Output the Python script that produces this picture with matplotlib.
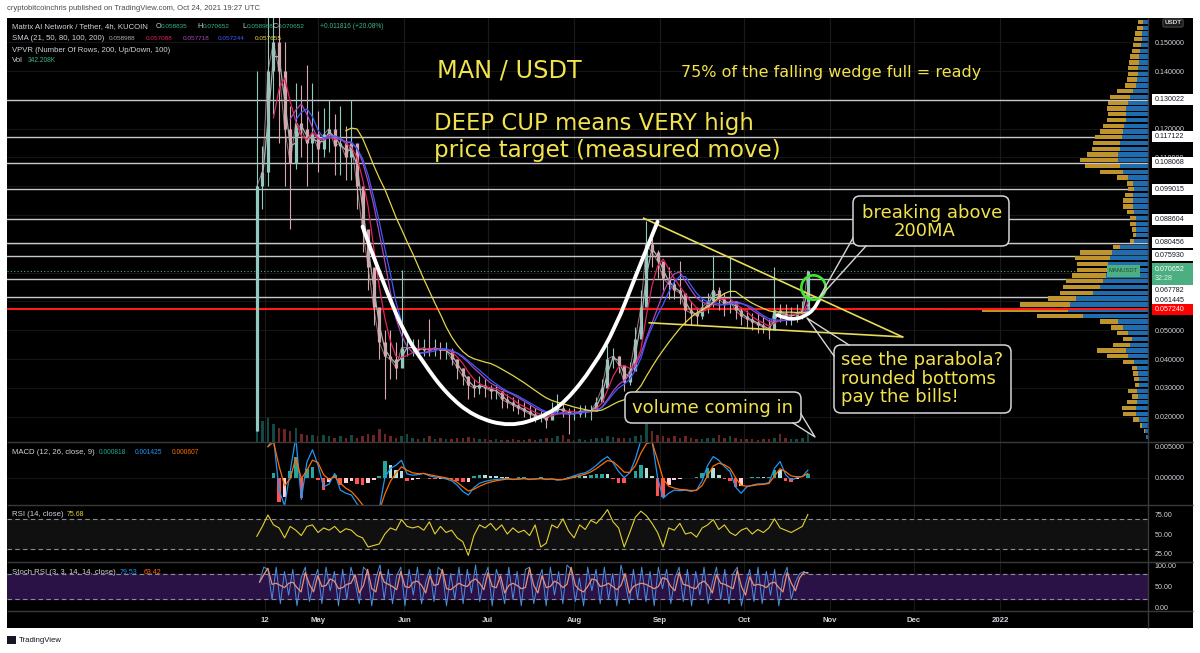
import matplotlib
matplotlib.use("Agg")
import matplotlib.pyplot as plt
import matplotlib.dates as mdates
from matplotlib.patches import FancyBboxPatch, Rectangle, PathPatch
from matplotlib.path import Path
import numpy as np
import pandas as pd

plt.rcParams["font.family"] = ["Liberation Sans", "DejaVu Sans"]

W, H = 1200, 653
YELLOW = "#f2e34c"
GRID = "#1a1a1a"
TXT = "#d1d4dc"
GREEN = "#3bb48a"
SEP = "#3a3a3a"
EDGE = "#d6d6d6"

# ---------------------------------------------------------------
# data (2-day samples of the 4h MAN/USDT chart)
# ---------------------------------------------------------------
candle_dates = pd.date_range("2021-04-09", "2021-10-24", freq="2D")

close = [0.100, 0.105, 0.140, 0.150, 0.140, 0.120, 0.108, 0.122, 0.120, 0.115,
         0.118, 0.113, 0.118, 0.120, 0.114, 0.115, 0.110, 0.115, 0.100, 0.085,
         0.072, 0.058, 0.046, 0.041, 0.040, 0.037, 0.044, 0.044, 0.044, 0.043,
         0.044, 0.043, 0.044, 0.043, 0.043, 0.040, 0.037, 0.034, 0.031, 0.030,
         0.031, 0.030, 0.029, 0.029, 0.026, 0.025, 0.024, 0.023, 0.022, 0.021,
         0.020, 0.020, 0.019, 0.022, 0.023, 0.022, 0.021, 0.021, 0.022, 0.022,
         0.022, 0.025, 0.030, 0.040, 0.041, 0.038, 0.032, 0.036, 0.047, 0.058,
         0.080, 0.077, 0.074, 0.068, 0.066, 0.064, 0.063, 0.057, 0.056, 0.055,
         0.058, 0.060, 0.064, 0.061, 0.059, 0.060, 0.057, 0.055, 0.054, 0.053,
         0.052, 0.051, 0.050, 0.057, 0.056, 0.055, 0.055, 0.056, 0.057, 0.0707]
high = [0.140, 0.114, 0.165, 0.165, 0.165, 0.150, 0.128, 0.136, 0.135, 0.142,
        0.136, 0.126, 0.127, 0.130, 0.125, 0.128, 0.121, 0.130, 0.114, 0.093,
        0.083, 0.066, 0.054, 0.050, 0.050, 0.046, 0.071, 0.047, 0.047, 0.047,
        0.047, 0.054, 0.047, 0.046, 0.046, 0.044, 0.040, 0.037, 0.034, 0.033,
        0.034, 0.033, 0.031, 0.031, 0.029, 0.028, 0.027, 0.026, 0.025, 0.024,
        0.023, 0.022, 0.022, 0.025, 0.028, 0.025, 0.023, 0.023, 0.024, 0.024,
        0.024, 0.027, 0.033, 0.045, 0.044, 0.041, 0.037, 0.039, 0.051, 0.064,
        0.088, 0.082, 0.078, 0.072, 0.072, 0.068, 0.074, 0.062, 0.060, 0.058,
        0.061, 0.063, 0.076, 0.065, 0.063, 0.075, 0.060, 0.058, 0.057, 0.056,
        0.056, 0.055, 0.054, 0.072, 0.059, 0.059, 0.058, 0.059, 0.060, 0.0707]
low = [0.015, 0.092, 0.100, 0.125, 0.115, 0.100, 0.085, 0.106, 0.110, 0.100,
       0.108, 0.105, 0.110, 0.112, 0.104, 0.104, 0.102, 0.102, 0.092, 0.077,
       0.064, 0.052, 0.040, 0.026, 0.033, 0.033, 0.040, 0.041, 0.041, 0.041,
       0.041, 0.041, 0.041, 0.040, 0.040, 0.038, 0.033, 0.031, 0.026, 0.027,
       0.028, 0.027, 0.026, 0.026, 0.023, 0.023, 0.022, 0.021, 0.020, 0.019,
       0.018, 0.018, 0.016, 0.020, 0.021, 0.020, 0.014, 0.019, 0.020, 0.020,
       0.019, 0.022, 0.027, 0.035, 0.037, 0.035, 0.029, 0.031, 0.042, 0.049,
       0.060, 0.072, 0.068, 0.064, 0.061, 0.061, 0.059, 0.052, 0.052, 0.052,
       0.054, 0.056, 0.058, 0.057, 0.055, 0.056, 0.054, 0.052, 0.051, 0.050,
       0.049, 0.049, 0.047, 0.054, 0.053, 0.052, 0.052, 0.053, 0.054, 0.0589]
volume_k = [4000, 3000, 3500, 2500, 2000, 1800, 1500, 2000, 1200, 1000,
            1000, 800, 1000, 800, 600, 800, 600, 1000, 600, 800,
            1200, 1000, 1800, 1200, 800, 600, 800, 1200, 500, 400,
            500, 800, 400, 500, 400, 400, 500, 600, 700, 500,
            400, 400, 300, 400, 300, 300, 400, 300, 300, 400,
            300, 400, 500, 600, 800, 1000, 400, 300, 400, 300,
            400, 500, 600, 800, 700, 600, 500, 600, 800, 1000,
            2500, 1500, 1000, 800, 600, 800, 500, 800, 500, 400,
            400, 500, 600, 1000, 600, 800, 500, 400, 400, 400,
            300, 400, 400, 500, 1200, 600, 400, 400, 500, 1400]

# MACD line in units of 1e-3
macd_e3 = [np.nan, np.nan, 5.0, 6.5, -2.0, -4.5, 1.0, 6.5, -3.5, 2.5,
           4.5, 2.0, -1.5, -1.0, 0.7, -2.0, -2.5, -2.8, -4.2, -5.5,
           -6.0, -6.0, -5.0, 0.0, 1.5, 2.0, 2.8, 0.6, 0.4, 0.5,
           0.7, 0.3, 0.1, 0.0, -0.2, -0.5, -1.2, -2.2, -2.8, -1.6,
           -0.9, -0.6, -0.4, -0.3, -0.2, -0.1, -0.3, -0.2, -0.1, -0.3,
           -0.2, -0.1, -0.3, -0.2, -0.4, -0.3, 0.0, 0.3, 0.6, 0.8,
           1.3, 2.0, 2.8, 3.4, 2.4, 1.0, 0.0, 0.8, 3.0, 6.0,
           7.0, 6.0, 0.0, -3.3, -2.5, -2.0, -2.1, -2.0, -2.2, -2.0,
           -0.5, 2.0, 3.4, 2.8, 1.8, 1.0, -1.5, -2.5, -1.5, -1.2,
           -1.0, -1.0, -0.8, 1.5, 2.6, 0.5, -0.4, 0.0, 0.2, 1.2]

rsi = [47, 60, 75, 62, 58, 45, 60, 55, 48, 60,
       62, 52, 58, 55, 60, 52, 57, 55, 48, 45,
       33, 35, 37, 50, 58, 55, 69, 60, 58, 60,
       55, 66, 50, 60, 52, 55, 45, 40, 22, 48,
       62, 58, 64, 55, 62, 50, 58, 52, 55, 48,
       62, 33, 38, 62, 58, 70, 54, 45, 62, 56,
       68, 64, 72, 82, 66, 58, 33, 52, 72, 80,
       74, 64, 52, 33, 58, 55, 64, 50, 52, 46,
       58, 62, 69, 56, 62, 52, 48, 55, 58, 50,
       56, 52, 58, 70, 58, 55, 52, 56, 60, 75.68]

stoch_k = [60, 95, 90, 20, 95, 10, 85, 30, 90, 5,
           70, 95, 15, 60, 90, 10, 95, 40, 85, 5,
           90, 20, 95, 60, 10, 95, 85, 5, 70, 100,
           20, 90, 10, 75, 95, 5, 90, 30, 95, 10,
           60, 90, 15, 95, 85, 5, 80, 20, 95, 10,
           90, 35, 100, 15, 70, 95, 5, 90, 60, 10,
           95, 20, 85, 5, 90, 95, 10, 60, 90, 5,
           95, 30, 85, 10, 100, 90, 15, 70, 5, 95,
           40, 90, 10, 95, 20, 80, 5, 100, 60, 10,
           90, 20, 95, 15, 85, 5, 95, 45, 90, 10,
           70, 95, 15, 90, 5, 85, 30, 95, 10, 60,
           95, 20, 90, 10, 80, 95, 5, 55, 90, 15,
           95, 10, 85, 30, 90, 5, 70, 95, 20, 60,
           79.5, 85, 79.53]

# horizontal levels drawn on the chart
sr_levels = [0.130022, 0.117122, 0.108068, 0.099015, 0.088604,
             0.080456, 0.075930, 0.067782, 0.061445]
poc_level = 0.057240
last_price = 0.070652

# volume profile (visible range), rows of 0.002 starting at 0.012
vp_total = [2, 4, 8, 15, 25, 26, 21, 16, 20, 13,
            14, 15, 16, 25, 41, 51, 35, 25, 31, 37,
            48, 111, 166, 128, 100, 88, 85, 82, 76, 71,
            71, 73, 68, 35, 18, 15, 16, 18, 18, 21,
            25, 25, 23, 20, 21, 31, 48, 63, 68, 61,
            56, 55, 53, 48, 45, 41, 40, 41, 40, 38,
            31, 23, 21, 20, 20, 19, 18, 16, 15, 14,
            13, 11, 10]
vp_down = [2, 3, 6, 9, 12, 12, 11, 10, 11, 9,
           9, 10, 11, 14, 20, 22, 18, 16, 20, 25,
           30, 65, 80, 78, 72, 55, 48, 45, 42, 40,
           40, 38, 36, 28, 14, 12, 12, 12, 12, 14,
           15, 15, 15, 14, 15, 20, 25, 28, 30, 30,
           28, 28, 26, 25, 24, 22, 22, 22, 20, 18,
           15, 12, 11, 10, 10, 9, 9, 8, 7, 6,
           6, 5, 5]

# drawings
cup_dates = ["2021-05-17", "2021-05-20", "2021-05-26", "2021-06-01", "2021-06-08",
             "2021-06-16", "2021-06-26", "2021-07-09", "2021-07-21", "2021-07-29",
             "2021-08-08", "2021-08-16", "2021-08-23", "2021-08-31"]
cup_prices = [0.0860, 0.0779, 0.0628, 0.0490, 0.0385, 0.0281, 0.0200, 0.0165,
              0.0200, 0.0252, 0.0374, 0.0512, 0.0686, 0.0877]
bowl_dates = ["2021-10-13", "2021-10-16", "2021-10-20", "2021-10-23", "2021-10-26", "2021-10-28"]
bowl_prices = [0.0553, 0.0541, 0.0539, 0.0550, 0.0570, 0.0605]
wedge_top_dates = ["2021-08-26", "2021-11-27"]
wedge_top_prices = [0.0889, 0.0477]
wedge_bot_dates = ["2021-08-28", "2021-11-27"]
wedge_bot_prices = [0.0526, 0.0477]
circle_date = "2021-10-26"
circle_price = 0.0651

tick_dates = ["2021-04-12", "2021-05-01", "2021-06-01", "2021-07-01", "2021-08-01",
              "2021-09-01", "2021-10-01", "2021-11-01", "2021-12-01", "2022-01-01"]
tick_labels = ["12", "May", "Jun", "Jul", "Aug", "Sep", "Oct", "Nov", "Dec", "2022"]


def rect(x0, y0, x1, y1):
    # pixel box (origin top-left) -> figure fraction rect
    return [x0 / W, 1 - y1 / H, (x1 - x0) / W, (y1 - y0) / H]


def num(dates):
    return mdates.date2num(pd.to_datetime(dates).to_pydatetime())


def blank(a):
    a.set_facecolor("none")
    for s in a.spines.values():
        s.set_visible(False)


def smooth_path(xv, yv):
    # quadratic bezier through the midpoints, read points act as control points
    pts = list(zip(xv, yv))
    verts = [pts[0]]
    codes = [Path.MOVETO]
    for i in range(1, len(pts) - 1):
        mid = ((pts[i][0] + pts[i + 1][0]) / 2, (pts[i][1] + pts[i + 1][1]) / 2)
        verts += [pts[i], mid]
        codes += [Path.CURVE3, Path.CURVE3]
    verts.append(pts[-1])
    codes.append(Path.LINETO)
    return Path(verts, codes)


fig = plt.figure(figsize=(W / 100, H / 100), dpi=100)
fig.patch.set_facecolor("white")

bg = fig.add_axes(rect(7, 18, 1193, 628))
bg.set_zorder(-5)
bg.set_facecolor("black")
bg.set_xticks([])
bg.set_yticks([])
for s in bg.spines.values():
    s.set_visible(False)

ax_vol = fig.add_axes(rect(7, 18, 1148, 442))
ax = fig.add_axes(rect(7, 18, 1148, 442), sharex=ax_vol)
ax_macd = fig.add_axes(rect(7, 442, 1148, 505), sharex=ax_vol)
ax_rsi = fig.add_axes(rect(7, 505, 1148, 562), sharex=ax_vol)
ax_st = fig.add_axes(rect(7, 562, 1148, 611), sharex=ax_vol)
ax_vol.set_zorder(-4)

may1 = mdates.date2num(pd.Timestamp("2021-05-01"))
ax.set_xlim(may1 - 111.75, may1 + 298.2)
tick_x = num(tick_dates)

for a in (ax_vol, ax, ax_macd, ax_rsi, ax_st):
    blank(a)
    a.tick_params(axis="both", length=0, labelsize=5.1, labelcolor=TXT,
                  labelleft=False, labelright=True, labelbottom=False, pad=5)
    for t in tick_x:
        a.axvline(t, color=GRID, lw=0.8, zorder=0)
ax_vol.axis("off")

# ---------------- main pane ----------------
ymin, ymax = 0.01122, 0.1584
ax.set_ylim(ymin, ymax)
price_ticks = np.arange(2, 16) / 100
hidden_ticks = {6, 7, 8, 9, 10, 13}  # covered by the level labels on the scale
ax.set_yticks(price_ticks)
ax.set_yticklabels(["" if round(v * 100) in hidden_ticks else f"{v:.6f}" for v in price_ticks])
for v in price_ticks:
    ax.axhline(v, color=GRID, lw=0.6, zorder=0)

for lvl in sr_levels:
    ax.axhline(lvl, color="#c8c8c8", lw=1.0, zorder=2)
ax.axhline(poc_level, color="#ff1a1a", lw=1.5, zorder=2)
ax.axhline(last_price, color="#4caf82", lw=0.8, ls=(0, (1, 2)), zorder=2)

xs = num(candle_dates)
opens = [low[0]] + close[:-1]
up = [c >= o for c, o in zip(close, opens)]
ccol = ["#8fc9bf" if u else "#d7a6ad" for u in up]
ax.vlines(xs, low, high, colors=ccol, lw=0.8, zorder=3)
ax.vlines(xs, np.minimum(opens, close), np.maximum(opens, close), colors=ccol, lw=2.3, zorder=3)
ax.plot(xs, close, color="#cfa9ae", lw=0.7, alpha=0.7, zorder=3)

# SMA 21/50/80/100/200 on 4h candles, expressed in 2-day samples
s_close = pd.Series(close)
ma_windows = [2, 4, 7, 8, 17]
ma_colors = ["#b0b0b0", "#e0245e", "#ab47bc", "#3d5afe", "#e2d54a"]
for win, col in zip(ma_windows, ma_colors):
    ax.plot(xs, s_close.rolling(win).mean(), color=col, lw=0.9, zorder=4)

ax_vol.set_ylim(0, 60000)
vcol = ["#26a69a" if u else "#ef5350" for u in up]
ax_vol.bar(xs, volume_k, width=0.9, color=vcol, alpha=0.45)

# drawings on the price pane
ax.add_patch(PathPatch(smooth_path(num(cup_dates), cup_prices), fc="none", ec="white",
                       lw=2.8, capstyle="round", zorder=6))
ax.add_patch(PathPatch(smooth_path(num(bowl_dates), bowl_prices), fc="none", ec="white",
                       lw=2.6, capstyle="round", zorder=6))
ax.plot(num(wedge_top_dates), wedge_top_prices, color="#e6dc55", lw=1.2, zorder=5)
ax.plot(num(wedge_bot_dates), wedge_bot_prices, color="#e6dc55", lw=1.2, zorder=5)
ax.plot(num([circle_date]), [circle_price], marker="o", ms=17.5, mfc="none",
        mec="#3fe82c", mew=1.9, zorder=7)

# ---------------- volume profile ----------------
ax_vp = fig.add_axes(rect(948, 18, 1148, 442), sharey=ax)
ax_vp.set_zorder(1)
ax_vp.set_xlim(200, 0)
ax_vp.axis("off")
vp_bottom = 0.012 + 0.002 * np.arange(len(vp_total))
vp_up = [t - d for t, d in zip(vp_total, vp_down)]
ax_vp.barh(vp_bottom + 0.001, vp_down, height=0.0015, color="#1f6cae")
ax_vp.barh(vp_bottom + 0.001, vp_up, left=vp_down, height=0.0015, color="#bf942c")
ax_vp.axhline(poc_level, color="#ff1a1a", lw=1.5)

# ---------------- price scale labels ----------------
pxu = 424 / (ymax - ymin)
ax_sc = fig.add_axes(rect(1148, 18, 1198, 442), sharey=ax)
ax_sc.set_zorder(2)
ax_sc.set_xlim(0, 50)
ax_sc.axis("off")
label_shift_px = {0.067782: 11, 0.061445: 3}
for lvl in sr_levels:
    yc = lvl - label_shift_px.get(lvl, 0) / pxu
    ax_sc.add_patch(Rectangle((4, yc - 5.5 / pxu), 41, 11 / pxu, fc="white", ec="none"))
    ax_sc.text(7, yc, f"{lvl:.6f}", va="center", ha="left", fontsize=5.1, color="#131722")
yc = last_price - 3 / pxu
ax_sc.add_patch(Rectangle((4, yc - 11 / pxu), 41, 22 / pxu, fc="#4caf82", ec="none"))
ax_sc.text(7, yc + 4.5 / pxu, f"{last_price:.6f}", va="center", ha="left", fontsize=5.1, color="white")
ax_sc.text(7, yc - 5 / pxu, "32:28", va="center", ha="left", fontsize=5.1, color="#d8f0e4")
ax_sc.add_patch(Rectangle((4, poc_level - 5.5 / pxu), 41, 11 / pxu, fc="#ff0000", ec="none"))
ax_sc.text(7, poc_level, f"{poc_level:.6f}", va="center", ha="left", fontsize=5.1, color="white")
ax_vp.add_patch(Rectangle((8, last_price - 6 / pxu), 33, 12 / pxu, fc="#4caf82", ec="none"))
ax_vp.text(24.5, last_price, "MANUSDT", ha="center", va="center", fontsize=4.2, color="#1d4a36")

# ---------------- MACD ----------------
macd = pd.Series(macd_e3) / 1000
signal = macd.ewm(span=3, adjust=False, ignore_na=True).mean()
hist = macd - signal
hcol = []
prev = 0.0
for h in hist:
    if np.isnan(h):
        hcol.append("#26a69a")
        continue
    if h >= 0:
        hcol.append("#26a69a" if h >= prev else "#b2dfdb")
    else:
        hcol.append("#ff5252" if h < prev else "#ffcdd2")
    prev = h
ax_macd.set_ylim(-0.0044, 0.00575)
ax_macd.axhline(0, color=GRID, lw=0.6, zorder=0)
ax_macd.bar(xs, hist, width=1.3, color=hcol, zorder=2)
ax_macd.plot(xs, macd, color="#2196f3", lw=0.9, zorder=3)
ax_macd.plot(xs, signal, color="#ff6d00", lw=0.9, zorder=3)
ax_macd.set_yticks([0, 0.005])
ax_macd.set_yticklabels(["0.000000", "0.005000"])

# ---------------- RSI ----------------
ax_rsi.set_ylim(13.3, 88.1)
ax_rsi.axhspan(30, 70, color="#101010", zorder=0)
for v in (70, 30):
    ax_rsi.axhline(v, color="#8a8d96", lw=0.8, ls=(0, (4, 3)), zorder=1)
ax_rsi.plot(xs, rsi, color="#e3d131", lw=0.8, zorder=3)
ax_rsi.set_yticks([25, 50, 75])
ax_rsi.set_yticklabels(["25.00", "50.00", "75.00"])

# ---------------- Stoch RSI ----------------
st_x = num(pd.date_range("2021-04-10", "2021-10-24", periods=len(stoch_k)))
k_line = pd.Series(stoch_k)
d_line = k_line.rolling(2, min_periods=1).mean()
ax_st.set_ylim(-7, 107)
ax_st.axhspan(20, 80, color="#2a1246", zorder=0)
for v in (80, 20):
    ax_st.axhline(v, color="#8a8d96", lw=0.8, ls=(0, (4, 3)), zorder=1)
ax_st.plot(st_x, k_line, color="#4a8fe0", lw=0.7, zorder=3)
ax_st.plot(st_x, d_line, color="#e8907a", lw=0.9, zorder=3)
ax_st.set_yticks([0, 50, 100])
ax_st.set_yticklabels(["0.00", "50.00", "100.00"])
ax_st.set_xticks(tick_x)
ax_st.set_xticklabels(tick_labels)
ax_st.tick_params(axis="x", labelbottom=True, pad=4, labelsize=5.6)
for lab in ax_st.get_xticklabels():
    lab.set_fontweight("bold")

# ---------------- overlay (pixel coordinates) ----------------
ov = fig.add_axes([0, 0, 1, 1])
ov.set_zorder(5)
ov.set_xlim(0, W)
ov.set_ylim(H, 0)
ov.axis("off")

ov.hlines([442, 505, 562, 611], 7, 1193, color=SEP, lw=1)
ov.vlines(1148, 18, 628, color=SEP, lw=1)

ov.text(7, 9, "cryptobitcoinchris published on TradingView.com, Oct 24, 2021 19:27 UTC",
        fontsize=5.5, color="#4a4a4a", va="center")
ov.add_patch(Rectangle((7, 636), 9, 8, fc="#131722", ec="none"))
ov.text(19, 640, "TradingView", fontsize=5.6, color="#131722", va="center")
ov.text(1173, 23, "USDT", fontsize=4.6, color=TXT, ha="center", va="center", fontweight="bold",
        bbox=dict(boxstyle="round,pad=0.25", fc="#1c1c1c", ec="#555555", lw=0.6))

# (text, x, colour, size)
legend_rows = [
    (27, [("Matrix AI Network / Tether, 4h, KUCOIN", 12, TXT, 5.6), ("O", 155.5, TXT, 5.2),
          ("0.058835", 160.5, GREEN, 4.6), ("H", 197, TXT, 5.2), ("0.070652", 202.5, GREEN, 4.6),
          ("L", 242.5, TXT, 5.2), ("0.058968", 246.5, GREEN, 4.6), ("C", 273, TXT, 5.2),
          ("0.070652", 278, GREEN, 4.6), ("+0.011816 (+20.08%)", 320, GREEN, 4.8)]),
    (38, [("SMA (21, 50, 80, 100, 200)", 12, TXT, 5.6), ("0.058988", 109, "#b0b0b0", 4.6),
          ("0.057088", 146, "#e0245e", 4.6), ("0.057718", 182.5, "#ab47bc", 4.6),
          ("0.057244", 218, "#3d5afe", 4.6), ("0.057655", 255, "#f0dc3c", 4.6)]),
    (50, [("VPVR (Number Of Rows, 200, Up/Down, 100)", 12, TXT, 5.6)]),
    (61, [("Vol", 12, TXT, 5.6), ("342.208K", 28, GREEN, 4.8)]),
    (452, [("MACD (12, 26, close, 9)", 12, TXT, 5.6), ("0.000818", 99, "#26a69a", 4.8),
           ("0.001425", 135, "#2196f3", 4.8), ("0.000607", 172, "#ff6d00", 4.8)]),
    (515, [("RSI (14, close)", 12, TXT, 5.6), ("75.68", 67, "#e3d131", 5.0)]),
    (572, [("Stoch RSI (3, 3, 14, 14, close)", 12, TXT, 5.6), ("79.53", 120, "#2196f3", 5.0),
           ("63.42", 144, "#ff6d00", 5.0)]),
]
for y, pieces in legend_rows:
    for s, x, c, fs in pieces:
        ov.text(x, y, s, fontsize=fs, color=c, va="center")

big = dict(family="DejaVu Sans", color=YELLOW, va="baseline")
ov.text(437, 77, "MAN / USDT", fontsize=17.3, **big)
ov.text(681, 77, "75% of the falling wedge full = ready", fontsize=11.5, **big)
ov.text(434, 130, "DEEP CUP means VERY high", fontsize=16.4, **big)
ov.text(434, 157, "price target (measured move)", fontsize=16.6, **big)


def callout(x0, y0, x1, y1, tail):
    ov.add_patch(FancyBboxPatch((x0, y0), x1 - x0, y1 - y0,
                                boxstyle="round,pad=0,rounding_size=7",
                                fc="black", ec=EDGE, lw=1.1, zorder=3))
    tx, ty = zip(*tail)
    ov.plot(tx, ty, color=EDGE, lw=1.0, zorder=4)


callout(853, 196, 1009, 246, [(853, 238), (819, 298), (866, 246)])
ov.text(862, 218, "breaking above", fontsize=13, zorder=5, **big)
ov.text(894, 236, "200MA", fontsize=13, zorder=5, **big)

callout(834, 345, 1011, 413, [(834, 356), (807, 318), (849, 345)])
for y, s in zip([365, 384, 402], ["see the parabola?", "rounded bottoms", "pay the bills!"]):
    ov.text(841, y, s, fontsize=13, zorder=5, **big)

callout(625, 392, 801, 423, [(793, 423), (815, 437), (801, 414)])
ov.text(632, 413, "volume coming in", fontsize=13, zorder=5, **big)

fig.savefig("out.png", dpi=100, facecolor="white")
